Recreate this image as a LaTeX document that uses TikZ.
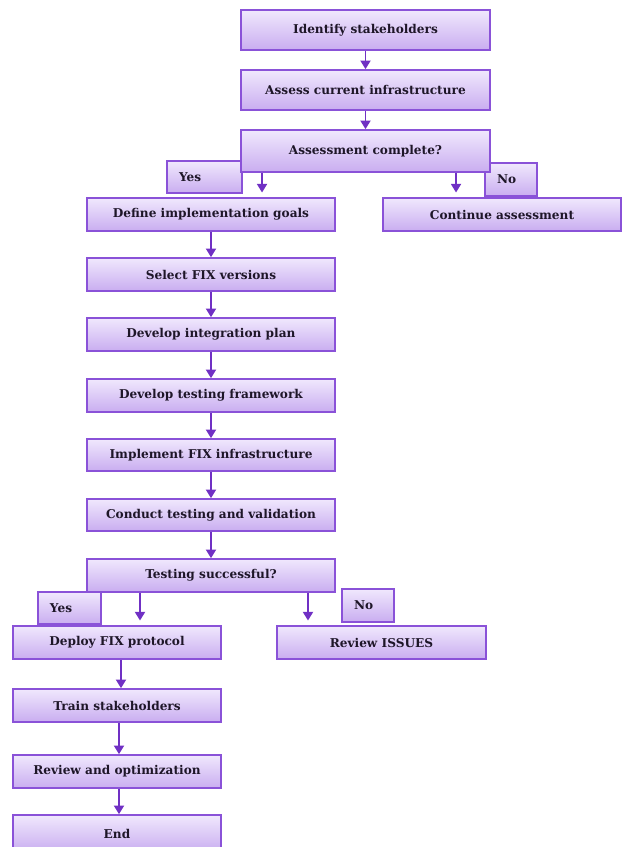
\documentclass[tikz,border=0pt]{standalone}
\usepackage{fontspec}
\setmainfont{DejaVu Serif}
\usetikzlibrary{arrows.meta,shadows}
\definecolor{boxline}{HTML}{8A52D8}
\definecolor{boxtop}{HTML}{F0E8FD}
\definecolor{boxbot}{HTML}{C9ADF0}
\definecolor{arrowc}{HTML}{7030C4}
\definecolor{txt}{HTML}{1E1628}
\tikzset{
  box/.style={draw=boxline, line width=1.2pt, top color=boxtop, bottom color=boxbot,
    inner sep=0pt, text=txt, font=\bfseries\fontsize{9.1}{11}\selectfont,
    drop shadow={opacity=0.25, shadow xshift=0.8pt, shadow yshift=-0.8pt}},
  tag/.style={box, align=left},
  arr/.style={draw=arrowc, line width=1.4pt, -{Triangle[width=7.5pt,length=6.5pt]}},
}
% a box given by its corners in pixel units: name, x1, y1, x2, y2, text
\newcommand\flowbox[6]{\node[box, minimum width={(#4-#2)*0.75pt}, minimum height={(#5-#3)*0.75pt}]
  (#1) at ({(#2+#4)/2},{(#3+#5)/2}) {#6};}
% a small answer tag with its text set near the left edge
\newcommand\tagbox[6]{\node[tag, inner xsep=9pt, text width={(#4-#2-24)*0.75pt}, minimum height={(#5-#3)*0.75pt}]
  (#1) at ({(#2+#4)/2},{(#3+#5)/2}) {#6};}
\begin{document}
\begin{tikzpicture}[x=0.75pt,y=-0.75pt]
\useasboundingbox (0,0) rectangle (622,847);
\clip (0,0) rectangle (622,847);
% answer tags sit underneath the decision boxes
\tagbox{yesA}{167}{161}{242}{193}{Yes}
\tagbox{noA}{485}{163}{537}{196}{No}
\tagbox{yesB}{38}{592}{101}{624}{Yes}
\tagbox{noB}{342}{589}{394}{622}{No}
% main flow
\flowbox{ident}{241}{10}{490}{50}{Identify stakeholders}
\flowbox{assess}{241}{70}{490}{110}{Assess current infrastructure}
\flowbox{done}{241}{130}{490}{172}{Assessment complete?}
\flowbox{goals}{87}{198}{335}{231}{Define implementation goals}
\flowbox{cont}{383}{198}{621}{231}{Continue assessment}
\flowbox{select}{87}{258}{335}{291}{Select FIX versions}
\flowbox{integ}{87}{318}{335}{351}{Develop integration plan}
\flowbox{frame}{87}{379}{335}{412}{Develop testing framework}
\flowbox{impl}{87}{439}{335}{471}{Implement FIX infrastructure}
\flowbox{conduct}{87}{499}{335}{531}{Conduct testing and validation}
\flowbox{tsucc}{87}{559}{335}{592}{Testing successful?}
\flowbox{deploy}{13}{626}{221}{659}{Deploy FIX protocol}
\flowbox{issues}{277}{626}{486}{659}{Review ISSUES}
\flowbox{train}{13}{689}{221}{722}{Train stakeholders}
\flowbox{review}{13}{755}{221}{788}{Review and optimization}
\flowbox{endb}{13}{815}{221}{852}{End}
% connectors
\draw[arr] (ident.south) -- (assess.north);
\draw[arr] (assess.south) -- (done.north);
\draw[arr, shorten >=3.5pt] ([xshift=-77.6pt]done.south) coordinate (d1) -- (d1 |- goals.north);
\draw[arr, shorten >=3.5pt] ([xshift=67.9pt]done.south) coordinate (d2) -- (d2 |- cont.north);
\draw[arr] (goals.south) -- (select.north);
\draw[arr] (select.south) -- (integ.north);
\draw[arr] (integ.south) -- (frame.north);
\draw[arr] (frame.south) -- (impl.north);
\draw[arr] (impl.south) -- (conduct.north);
\draw[arr] (conduct.south) -- (tsucc.north);
\draw[arr, shorten >=3.5pt] ([xshift=-53.25pt]tsucc.south) coordinate (t1) -- (t1 |- deploy.north);
\draw[arr, shorten >=3.5pt] ([xshift=72.75pt]tsucc.south) coordinate (t2) -- (t2 |- issues.north);
\draw[arr] ([xshift=3pt]deploy.south) coordinate (p1) -- (p1 |- train.north);
\draw[arr] ([xshift=1.5pt]train.south) coordinate (p2) -- (p2 |- review.north);
\draw[arr] ([xshift=1.5pt]review.south) coordinate (p3) -- (p3 |- endb.north);
\end{tikzpicture}
\end{document}
